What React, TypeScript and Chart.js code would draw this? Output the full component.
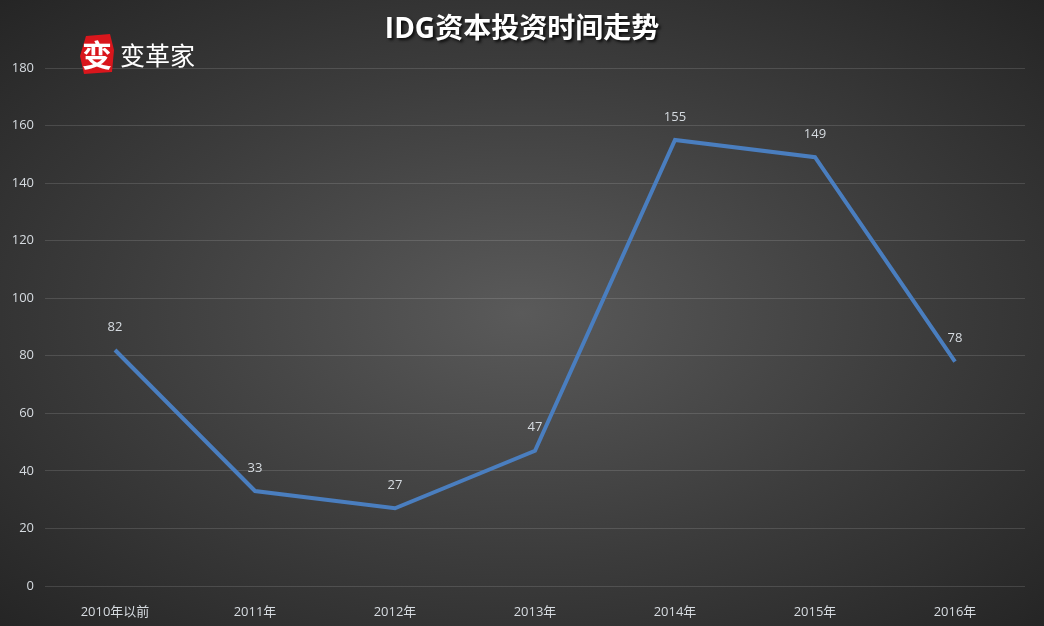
import React, { useEffect, useRef } from "react";
import { Chart, registerables } from "chart.js";

Chart.register(...registerables);

const categories = ["2010年以前", "2011年", "2012年", "2013年", "2014年", "2015年", "2016年"];
const investments = [82, 33, 27, 47, 155, 149, 78];
const yTicks = [0, 20, 40, 60, 80, 100, 120, 140, 160, 180];
const titleText = "IDG资本投资时间走势";
const logoText = "变革家";

const TICK_COLOR = "#d6dbe0";
const FONT = "'Open Sans', 'Noto Sans CJK SC', sans-serif";

const overlayPlugin = {
  id: "overlay",
  afterDraw(chart: any) {
    const ctx = chart.ctx as CanvasRenderingContext2D;
    // title
    ctx.save();
    ctx.font = `bold 28px ${FONT}`;
    ctx.textAlign = "center";
    ctx.textBaseline = "middle";
    ctx.shadowColor = "rgba(0,0,0,0.8)";
    ctx.shadowOffsetX = 2;
    ctx.shadowOffsetY = 2;
    ctx.shadowBlur = 3;
    ctx.fillStyle = "#ffffff";
    ctx.fillText(titleText, 522, 30);
    ctx.restore();

    // logo seal
    ctx.save();
    ctx.fillStyle = "#d9161c";
    ctx.beginPath();
    ctx.moveTo(86, 36);
    ctx.lineTo(110, 34);
    ctx.lineTo(114, 50);
    ctx.lineTo(112, 72);
    ctx.lineTo(84, 74);
    ctx.lineTo(80, 56);
    ctx.closePath();
    ctx.fill();
    ctx.font = `bold 30px 'Noto Sans CJK SC', sans-serif`;
    ctx.fillStyle = "#ffffff";
    ctx.textAlign = "center";
    ctx.textBaseline = "middle";
    ctx.fillText("变", 97, 55);
    ctx.font = `25px 'Noto Sans CJK SC', serif`;
    ctx.textAlign = "left";
    ctx.fillText(logoText, 120, 55);
    ctx.restore();

    // data labels
    const meta = chart.getDatasetMeta(0);
    ctx.save();
    ctx.font = `13px ${FONT}`;
    ctx.fillStyle = TICK_COLOR;
    ctx.textAlign = "center";
    ctx.textBaseline = "middle";
    meta.data.forEach((pt: any, i: number) => {
      ctx.fillText(String(investments[i]), pt.x, pt.y - 23);
    });
    ctx.restore();
  },
};

export default function App() {
  const ref = useRef<HTMLCanvasElement>(null);
  useEffect(() => {
    document.body.style.margin = "0";
    const chart = new Chart(ref.current!, {
      type: "line",
      data: {
        labels: categories,
        datasets: [
          {
            data: investments,
            borderColor: "#4a7ebf",
            borderWidth: 4,
            pointRadius: 0,
            tension: 0,
            fill: false,
          },
        ],
      },
      options: {
        responsive: false,
        animation: false,
        layout: { padding: { top: 68, right: 19, left: 0, bottom: 0 } },
        plugins: { legend: { display: false }, tooltip: { enabled: false } },
        scales: {
          x: {
            offset: true,
            grid: { display: false },
            border: { display: false },
            ticks: { color: TICK_COLOR, font: { family: FONT, size: 13 }, padding: 10, maxRotation: 0 },
            afterFit(scale: any) {
              scale.height = 40;
            },
          },
          y: {
            min: 0,
            max: 180,
            afterBuildTicks(scale: any) {
              scale.ticks = yTicks.map((v) => ({ value: v }));
            },
            grid: { color: "rgba(255,255,255,0.13)", lineWidth: 1, drawTicks: false },
            border: { display: false },
            ticks: { color: TICK_COLOR, font: { family: FONT, size: 13 }, padding: 11 },
            afterFit(scale: any) {
              scale.width = 45;
            },
          },
        },
      },
      plugins: [overlayPlugin],
    });
    return () => chart.destroy();
  }, []);
  return (
    <div
      style={{
        width: 1044,
        height: 626,
        background: "radial-gradient(ellipse farthest-corner at 50% 50%, #5a5a5a 0%, #3c3c3c 55%, #252525 100%)",
      }}
    >
      <canvas ref={ref} width={1044} height={626} />
    </div>
  );
}
